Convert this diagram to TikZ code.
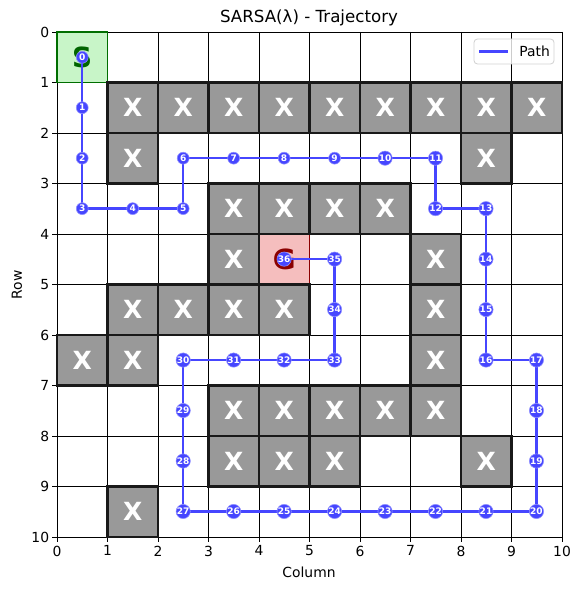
\documentclass[tikz,border=0pt]{standalone}
\usepackage{fontspec}
\setmainfont{DejaVu Sans}
\definecolor{pathblue}{RGB}{70,70,255}
\definecolor{wallgray}{RGB}{153,153,153}
\definecolor{startfill}{RGB}{200,245,200}
\definecolor{startedge}{RGB}{0,110,0}
\definecolor{goalfill}{RGB}{245,190,190}
\definecolor{goaledge}{RGB}{139,0,0}
\definecolor{sgreen}{RGB}{0,100,0}
\begin{document}
\begin{tikzpicture}[x=0.72pt,y=-0.72pt,
  gridline/.style={black,line width=0.7pt},
  wall/.style={fill=wallgray,draw={rgb,255:red,25;green,25;blue,25},line width=1.5pt},
  xlab/.style={text=white,font=\fontsize{18}{18}\selectfont\bfseries,inner sep=0pt},
  pathline/.style={pathblue,line width=1.8pt,line join=round},
  marker/.style={circle,fill=pathblue,draw=pathblue!60!white,line width=0.4pt,minimum size=8.6pt,inner sep=0pt,text=white,font=\fontsize{6.5}{6.5}\selectfont\bfseries},
  tick/.style={black,line width=0.6pt},
  ticklab/.style={font=\fontsize{10}{10}\selectfont,inner sep=0pt}]
\useasboundingbox[fill=white] (0,0) rectangle (580,590);
\node[font=\fontsize{12}{12}\selectfont] (title) at (309,18) {SARSA(λ) - Trajectory};
\node[font=\fontsize{10}{10}\selectfont,rotate=90] (rowlab) at (17,285) {Row};
\node[font=\fontsize{10}{10}\selectfont] (collab) at (309,572) {Column};
\begin{scope}[shift={(57,32)},scale=50.5]
  % grid
  \foreach \k in {0,...,10} {
    \draw[gridline] (\k,0) -- (\k,10);
    \draw[gridline] (0,\k) -- (10,\k);
    \draw[tick] (\k,10) -- ++(0,0.097);
    \draw[tick] (0,\k) -- ++(-0.097,0);
    \node[ticklab,anchor=north] (xt\k) at (\k,10.17) {\k};
    \node[ticklab,anchor=east] (yt\k) at (-0.15,\k) {\k};
  }
  % start and goal
  \draw[fill=startfill,draw=startedge,line width=0.8pt] (0,0) rectangle (1,1);
  \draw[fill=goalfill,draw=goaledge,line width=0.8pt] (4,4) rectangle (5,5);
  \node[text=sgreen,font=\fontsize{20}{20}\selectfont\bfseries,inner sep=0pt] (S) at (0.5,0.5) {S};
  \node[text=goaledge,font=\fontsize{20}{20}\selectfont\bfseries,inner sep=0pt] (G) at (4.5,4.5) {G};
  % walls
  \foreach \c/\r in {1/1,2/1,3/1,4/1,5/1,6/1,7/1,8/1,9/1,
                     1/2,8/2,
                     3/3,4/3,5/3,6/3,
                     3/4,7/4,
                     1/5,2/5,3/5,4/5,7/5,
                     0/6,1/6,7/6,
                     3/7,4/7,5/7,6/7,7/7,
                     3/8,4/8,5/8,8/8,
                     1/9} {
    \draw[wall] (\c,\r) rectangle ++(1,1);
    \node[xlab] (w\c-\r) at (\c+0.5,\r+0.5) {X};
  }
  % path points
  \foreach \i/\x/\y in {0/0.5/0.5,1/0.5/1.5,2/0.5/2.5,3/0.5/3.5,4/1.5/3.5,5/2.5/3.5,
      6/2.5/2.5,7/3.5/2.5,8/4.5/2.5,9/5.5/2.5,10/6.5/2.5,11/7.5/2.5,12/7.5/3.5,
      13/8.5/3.5,14/8.5/4.5,15/8.5/5.5,16/8.5/6.5,17/9.5/6.5,18/9.5/7.5,19/9.5/8.5,
      20/9.5/9.5,21/8.5/9.5,22/7.5/9.5,23/6.5/9.5,24/5.5/9.5,25/4.5/9.5,26/3.5/9.5,
      27/2.5/9.5,28/2.5/8.5,29/2.5/7.5,30/2.5/6.5,31/3.5/6.5,32/4.5/6.5,33/5.5/6.5,
      34/5.5/5.5,35/5.5/4.5,36/4.5/4.5} {
    \coordinate (c\i) at (\x,\y);
  }
  \draw[pathline] (c0) \foreach \i in {1,...,36} { -- (c\i) };
  \foreach \i in {0,...,36} {
    \node[marker] (p\i) at (c\i) {\i};
  }
\end{scope}
% legend
\draw[fill=white,fill opacity=0.8,draw={rgb,255:red,210;green,210;blue,210},line width=0.6pt,rounded corners=2.5pt] (474,39) rectangle (554,64);
\coordinate (lega) at (479,51.5);
\coordinate (legb) at (508,51.5);
\draw[pathline] (lega) -- (legb);
\node[font=\fontsize{10}{10}\selectfont,anchor=west,inner sep=0pt] (legtext) at (519,51.5) {Path};
\end{tikzpicture}
\end{document}
